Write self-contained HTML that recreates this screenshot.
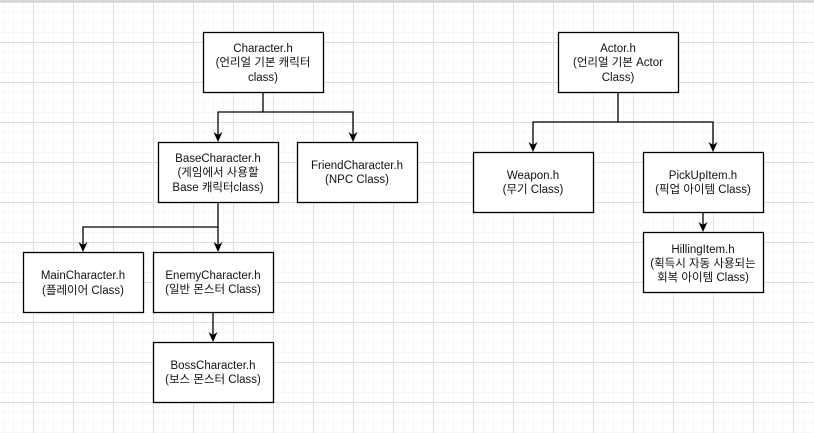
<!DOCTYPE html>
<html><head><meta charset="utf-8"><style>
html,body{margin:0;padding:0;background:#fff}
svg{display:block}
text{font-family:"Liberation Sans","Noto Sans CJK KR",sans-serif;font-size:11.5px;fill:#111}
</style></head><body>
<svg width="814" height="433" viewBox="0 0 814 433" xmlns="http://www.w3.org/2000/svg">
<defs>
<pattern id="mi" width="10" height="10" patternUnits="userSpaceOnUse" x="3" y="2">
<path d="M0 0H10M0 0V10" stroke="#f0f0f0" stroke-width="1" fill="none"/></pattern>
<pattern id="ma" width="40" height="40" patternUnits="userSpaceOnUse" x="-7" y="2">
<path d="M0 0.5H40M0.5 0V40" stroke="#dedede" stroke-width="1" fill="none"/></pattern>
<path id="ah" d="M0 0L-4.5 -10L0 -7L4.5 -10Z" fill="#000"/>
</defs>
<rect width="814" height="433" fill="url(#mi)"/>
<rect width="814" height="433" fill="url(#ma)"/>
<rect x="0" y="0" width="814" height="2" fill="#d8d8d8"/>
<g fill="none" stroke="#000" stroke-width="1.3">
<path d="M263 92V112H218V136"/>
<path d="M263 112H353V136"/>
<path d="M218 202V227H83V246"/>
<path d="M218 227V246"/>
<path d="M213 312V336"/>
<path d="M618 92V122H533V146"/>
<path d="M618 122H713V146"/>
<path d="M703 212V226"/>
</g>
<use href="#ah" x="218" y="142"/><use href="#ah" x="353" y="142"/>
<use href="#ah" x="83" y="252"/><use href="#ah" x="218" y="252"/>
<use href="#ah" x="213" y="342"/><use href="#ah" x="533" y="152"/>
<use href="#ah" x="713" y="152"/><use href="#ah" x="703" y="232"/>
<g fill="#fff" stroke="#000" stroke-width="1.3">
<rect x="203.5" y="32.5" width="120" height="60"/>
<rect x="158.5" y="142.5" width="120" height="60"/>
<rect x="297.5" y="142.5" width="120" height="60"/>
<rect x="23.5" y="252.5" width="120" height="60"/>
<rect x="153.5" y="252.5" width="120" height="60"/>
<rect x="153.5" y="342.5" width="120" height="60"/>
<rect x="558.5" y="32.5" width="120" height="60"/>
<rect x="473.5" y="152.5" width="120" height="60"/>
<rect x="643.5" y="152.5" width="120" height="60"/>
<rect x="643.5" y="232.5" width="120" height="60"/>
</g>
<g text-anchor="middle">
<text x="263" y="52">Character.h</text><text x="263" y="66">(언리얼 기본 캐릭터</text><text x="263" y="81">class)</text>
<text x="218" y="162">BaseCharacter.h</text><text x="218" y="176">(게임에서 사용할</text><text x="218" y="191">Base 캐릭터class)</text>
<text x="357" y="169">FriendCharacter.h</text><text x="357" y="183">(NPC Class)</text>
<text x="83" y="279">MainCharacter.h</text><text x="83" y="294">(플레이어 Class)</text>
<text x="213" y="279">EnemyCharacter.h</text><text x="213" y="293">(일반 몬스터 Class)</text>
<text x="213" y="369">BossCharacter.h</text><text x="213" y="383">(보스 몬스터 Class)</text>
<text x="618" y="52">Actor.h</text><text x="618" y="66">(언리얼 기본 Actor</text><text x="618" y="81">Class)</text>
<text x="533" y="179">Weapon.h</text><text x="533" y="193">(무기 Class)</text>
<text x="703" y="179">PickUpItem.h</text><text x="703" y="193">(픽업 아이템 Class)</text>
<text x="703" y="253">HillingItem.h</text><text x="703" y="267">(획득시 자동 사용되는</text><text x="703" y="281">회복 아이템 Class)</text>
</g>
</svg>
</body></html>
